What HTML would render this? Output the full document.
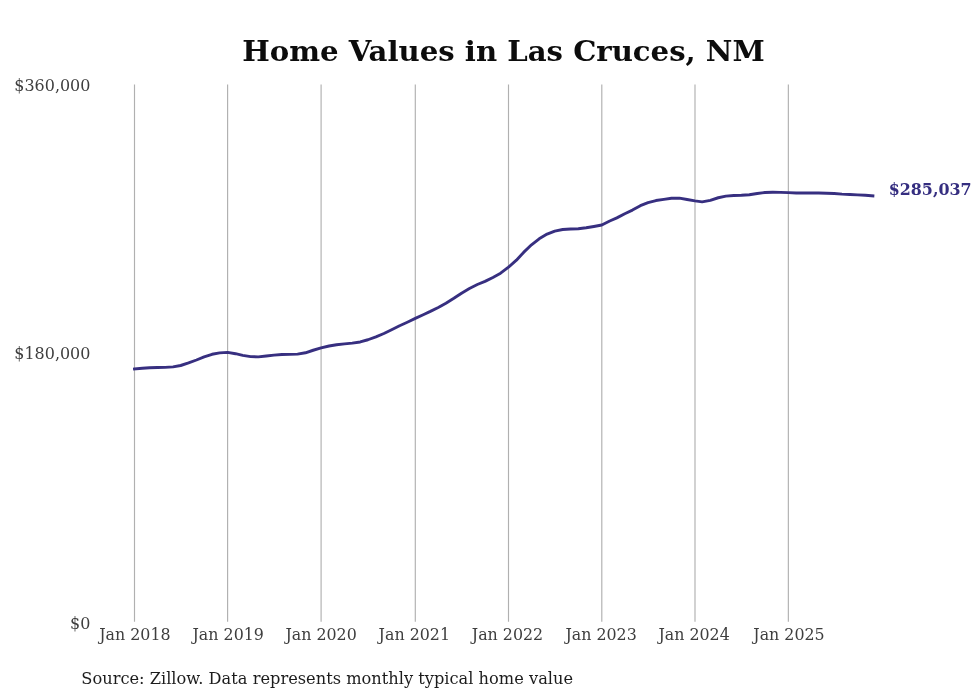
<!DOCTYPE html>
<html><head><meta charset="utf-8"><title>Home Values in Las Cruces, NM</title>
<style>
html,body{margin:0;padding:0;background:#fff;}
body{width:980px;height:699px;overflow:hidden;}
svg{display:block;}
text{font-family:"DejaVu Serif","Liberation Serif",serif;}
.t{font-weight:bold;font-size:28.5px;fill:#0c0c0c;}
.ax{font-size:16.9px;fill:#3e3e3e;}
.ay{font-size:17.05px;fill:#3e3e3e;}
.src{font-size:17px;fill:#1c1c1c;}
.lab{font-size:15.9px;font-weight:bold;fill:#352e80;}
</style></head><body>
<svg width="980" height="699" viewBox="0 0 980 699">
<rect width="980" height="699" fill="#ffffff"/>
<g stroke="#b0b0b0" stroke-width="1.15" fill="none"><line x1="134.50" y1="84.6" x2="134.50" y2="621.8"/><line x1="227.60" y1="84.6" x2="227.60" y2="621.8"/><line x1="321.10" y1="84.6" x2="321.10" y2="621.8"/><line x1="415.30" y1="84.6" x2="415.30" y2="621.8"/><line x1="508.50" y1="84.6" x2="508.50" y2="621.8"/><line x1="601.80" y1="84.6" x2="601.80" y2="621.8"/><line x1="695.00" y1="84.6" x2="695.00" y2="621.8"/><line x1="788.35" y1="84.6" x2="788.35" y2="621.8"/></g>
<path d="M134.50,369.00 L142.41,368.20 L149.55,367.70 L157.46,367.50 L165.11,367.40 L173.02,366.90 L180.67,365.50 L188.57,362.90 L196.48,360.00 L204.13,356.90 L212.04,354.30 L219.69,352.90 L227.60,352.35 L235.54,353.70 L242.71,355.40 L250.65,356.60 L258.34,356.90 L266.28,355.95 L273.97,355.10 L281.91,354.50 L289.85,354.40 L297.53,354.10 L305.47,352.80 L313.16,350.25 L321.10,347.95 L329.08,346.00 L336.54,344.80 L344.52,343.90 L352.24,343.10 L360.22,341.95 L367.94,339.75 L375.92,336.80 L383.90,333.50 L391.62,329.70 L399.60,325.70 L407.32,322.20 L415.30,318.40 L423.22,314.70 L430.37,311.40 L438.28,307.50 L445.94,303.25 L453.86,298.30 L461.52,293.25 L469.43,288.50 L477.35,284.50 L485.01,281.40 L492.92,277.45 L500.58,273.20 L508.50,267.20 L516.42,260.20 L523.58,252.40 L531.51,244.80 L539.17,238.80 L547.10,234.10 L554.77,231.10 L562.69,229.50 L570.61,229.00 L578.28,228.70 L586.21,227.80 L593.88,226.50 L601.80,225.00 L609.72,221.00 L616.87,217.85 L624.78,213.70 L632.44,210.10 L640.36,205.70 L648.02,202.70 L655.93,200.55 L663.85,199.35 L671.51,198.20 L679.42,198.10 L687.08,199.50 L695.00,200.90 L702.11,201.90 L710.30,200.30 L718.21,197.75 L725.86,196.15 L733.77,195.55 L741.42,195.30 L749.33,194.70 L757.23,193.45 L764.88,192.50 L772.79,192.30 L780.44,192.40 L788.35,192.65 L796.20,193.00 L803.29,193.00 L811.13,193.00 L818.73,193.00 L826.57,193.20 L834.17,193.50 L842.02,194.10 L849.86,194.45 L857.46,194.90 L865.31,195.30 L872.90,195.90" fill="none" stroke="#372f80" stroke-width="2.9" stroke-linecap="square" stroke-linejoin="round"/>
<text class="t" transform="translate(503.45,60.55) scale(1.023,1)" x="0" y="0" text-anchor="middle">Home Values in Las Cruces, NM</text>
<g class="ay" text-anchor="end"><text transform="translate(90.4,90.9) scale(0.936,1)">$360,000</text><text transform="translate(90.4,358.95) scale(0.936,1)">$180,000</text><text transform="translate(90.4,629.1) scale(0.936,1)">$0</text></g>
<g class="ax" text-anchor="middle"><text transform="translate(134.90,640.35) scale(0.938,1)">Jan 2018</text><text transform="translate(228.20,640.35) scale(0.938,1)">Jan 2019</text><text transform="translate(321.10,640.35) scale(0.938,1)">Jan 2020</text><text transform="translate(414.30,640.35) scale(0.938,1)">Jan 2021</text><text transform="translate(507.50,640.35) scale(0.938,1)">Jan 2022</text><text transform="translate(601.10,640.35) scale(0.938,1)">Jan 2023</text><text transform="translate(694.10,640.35) scale(0.938,1)">Jan 2024</text><text transform="translate(789.00,640.35) scale(0.938,1)">Jan 2025</text></g>
<text class="lab" x="888.7" y="195.2">$285,037</text>
<text class="src" transform="translate(81.3,684.3) scale(0.9555,1)">Source: Zillow. Data represents monthly typical home value</text>
</svg>
</body></html>
